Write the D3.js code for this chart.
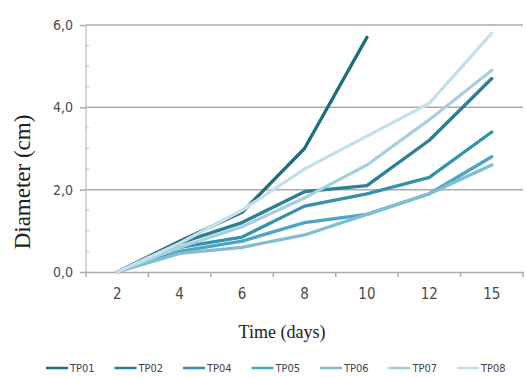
<!DOCTYPE html>
<html>
<head>
<meta charset="utf-8">
<script src="https://cdn.jsdelivr.net/npm/d3@7"></script>
<style>
  body { margin: 0; background: #fff; }
  #chart { width: 526px; height: 378px; }
</style>
</head>
<body>
<div id="chart"></div>
<script>
const days = ["2", "4", "6", "8", "10", "12", "15"];
const seriesNames = ["TP01", "TP02", "TP04", "TP05", "TP06", "TP07", "TP08"];
const tp01 = [0, 0.75, 1.45, 3.0, 5.7];
const tp02 = [0, 0.7, 1.2, 1.95, 2.1, 3.2, 4.7];
const tp04 = [0, 0.6, 0.85, 1.6, 1.9, 2.3, 3.4];
const tp05 = [0, 0.5, 0.75, 1.2, 1.4, 1.9, 2.8];
const tp06 = [0, 0.45, 0.6, 0.9, 1.4, 1.9, 2.6];
const tp07 = [0, 0.6, 1.1, 1.8, 2.6, 3.7, 4.9];
const tp08 = [0, 0.7, 1.5, 2.5, 3.3, 4.1, 5.8];
const yTicks = [0, 2, 4, 6];

const seriesValues = [tp01, tp02, tp04, tp05, tp06, tp07, tp08];
const colors = ["#1f6d7d", "#2a8096", "#3592ad", "#4aa6c2", "#80bdd0", "#a7cfdc", "#c4e0ea"];
const tickFont = "'DejaVu Sans Condensed', 'Liberation Sans', Arial, sans-serif";

const width = 526;
const height = 378;
const margin = { top: 25, right: 3, bottom: 106, left: 86 };
const innerW = width - margin.left - margin.right;
const innerH = height - margin.top - margin.bottom;

const svg = d3.select("#chart")
  .append("svg")
  .attr("width", width)
  .attr("height", height);

const g = svg.append("g")
  .attr("transform", `translate(${margin.left},${margin.top})`);

const x = d3.scaleBand().domain(days).range([0, innerW]);
const y = d3.scaleLinear().domain([0, 6]).range([innerH, 0]);

// gridlines
g.append("g")
  .selectAll("line")
  .data(yTicks.filter((d) => d > 0))
  .enter()
  .append("line")
  .attr("x1", 0)
  .attr("x2", innerW)
  .attr("y1", (d) => y(d))
  .attr("y2", (d) => y(d))
  .attr("stroke", "#ababab")
  .attr("stroke-width", 1.5);

// y axis line + minor ticks
g.append("line")
  .attr("x1", 0).attr("x2", 0)
  .attr("y1", 0).attr("y2", innerH)
  .attr("stroke", "#c8c8c8")
  .attr("stroke-width", 1.5);

g.append("g")
  .selectAll("line")
  .data(d3.range(0, 6.01, 0.5))
  .enter()
  .append("line")
  .attr("x1", 0)
  .attr("x2", 3)
  .attr("y1", (d) => y(d))
  .attr("y2", (d) => y(d))
  .attr("stroke", "#c0c0c0");

const yAxis = g.append("g")
  .call(d3.axisLeft(y).tickValues(yTicks).tickSize(6).tickFormat((d) => d3.format(".1f")(d).replace(".", ",")));
yAxis.select(".domain").remove();
yAxis.selectAll(".tick line").attr("stroke", "#ababab").attr("stroke-width", 1.5);
yAxis.selectAll(".tick text")
  .attr("x", -13)
  .attr("fill", "#4a4a4a")
  .style("font-family", tickFont)
  .style("font-size", "14px");

// x axis
const xAxis = g.append("g")
  .attr("transform", `translate(0,${innerH})`)
  .call(d3.axisBottom(x).tickSize(0));
xAxis.select(".domain").attr("stroke", "#ababab").attr("stroke-width", 1.5);
xAxis.selectAll(".tick text")
  .attr("dy", "1.6em")
  .attr("fill", "#4a4a4a")
  .style("font-family", tickFont)
  .style("font-size", "15px");

xAxis.append("g")
  .selectAll("line")
  .data(days.concat(["end"]))
  .enter()
  .append("line")
  .attr("x1", (d, i) => i * x.step())
  .attr("x2", (d, i) => i * x.step())
  .attr("y1", 0)
  .attr("y2", 5)
  .attr("stroke", "#ababab")
  .attr("stroke-width", 1.5);

// lines
const line = d3.line()
  .x((d, i) => x(days[i]) + x.bandwidth() / 2)
  .y((d) => y(d));

g.append("g")
  .selectAll("path")
  .data(seriesValues)
  .enter()
  .append("path")
  .attr("d", (d) => line(d))
  .attr("fill", "none")
  .attr("stroke", (d, i) => colors[i])
  .attr("stroke-width", 3.3)
  .attr("stroke-linejoin", "round")
  .attr("stroke-linecap", "round");

// axis titles
svg.append("text")
  .attr("transform", "translate(30,182) rotate(-90)")
  .attr("text-anchor", "middle")
  .style("font-family", "'Liberation Serif', 'Times New Roman', serif")
  .style("font-size", "23px")
  .attr("fill", "#222")
  .text("Diameter (cm)");

svg.append("text")
  .attr("x", 282)
  .attr("y", 338)
  .attr("text-anchor", "middle")
  .style("font-family", "'Liberation Serif', 'Times New Roman', serif")
  .style("font-size", "18px")
  .attr("fill", "#222")
  .text("Time (days)");

// legend
const legend = svg.append("g")
  .attr("transform", "translate(46,368)");

const item = legend.selectAll("g")
  .data(seriesNames)
  .enter()
  .append("g")
  .attr("transform", (d, i) => `translate(${i * 68.5},0)`);

item.append("line")
  .attr("x1", 0).attr("x2", 22)
  .attr("y1", 0).attr("y2", 0)
  .attr("stroke", (d, i) => colors[i])
  .attr("stroke-width", 2.5);

item.append("text")
  .attr("x", 24)
  .attr("y", 4)
  .attr("fill", "#444")
  .style("font-family", tickFont)
  .style("font-size", "11px")
  .text((d) => d);
</script>
</body>
</html>
